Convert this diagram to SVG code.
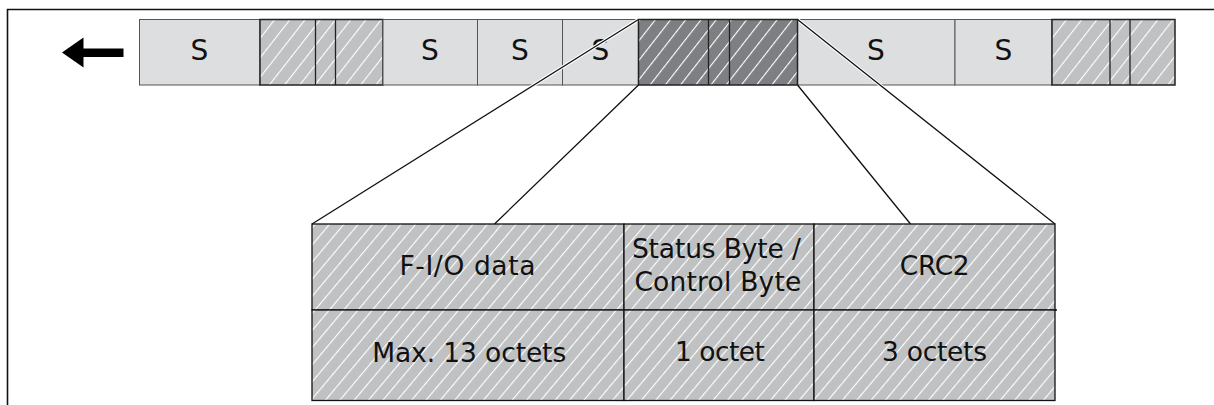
<svg xmlns="http://www.w3.org/2000/svg" width="1214" height="405" viewBox="0 0 1214 405">
<style>
.s{fill:#dddee0;stroke:#555;stroke-width:1}
.hl{fill:url(#hatchLight);stroke:#222;stroke-width:1.5}
.hd{fill:url(#hatchDark);stroke:#222;stroke-width:1.5}
.ht{fill:url(#hatchTable);stroke:#111;stroke-width:1.3}
.div{stroke:#222;stroke-width:1.3;fill:none}
.lbl{font-family:"DejaVu Sans","Verdana",sans-serif;font-size:28px;fill:#111;text-anchor:middle}
.t{font-family:"DejaVu Sans","Verdana",sans-serif;font-size:26.5px;fill:#111;text-anchor:middle}
.con{stroke:#111;stroke-width:1.3;fill:none}
.halo{stroke:#fff;stroke-width:3.5;fill:none}
</style>
<defs>
<pattern id="hatchLight" patternUnits="userSpaceOnUse" width="12" height="12" patternTransform="rotate(38)">
<rect width="12" height="12" fill="#c0c1c3"/>
<line x1="0" y1="0" x2="0" y2="12" stroke="#fff" stroke-width="2.2"/>
</pattern>
<pattern id="hatchDark" patternUnits="userSpaceOnUse" width="12" height="12" patternTransform="rotate(38)">
<rect width="12" height="12" fill="#7e7f82"/>
<line x1="0" y1="0" x2="0" y2="12" stroke="#fff" stroke-width="2.2"/>
</pattern>
<pattern id="hatchTable" patternUnits="userSpaceOnUse" width="11" height="11" patternTransform="rotate(40)">
<rect width="11" height="11" fill="#c0c1c3"/>
<line x1="0" y1="0" x2="0" y2="11" stroke="#fff" stroke-width="2.2"/>
</pattern>
</defs>
<rect width="1214" height="405" fill="#fff"/>
<g id="frame">
<path d="M7.5,405 V9.5 H1214" stroke="#111" stroke-width="1.6" fill="none"/>
</g>
<g id="arrow">
<polygon points="62,52.5 83.5,37.5 83.5,48.5 123.5,48.5 123.5,57 83.5,57 83.5,67.5" fill="#000"/>
</g>
<g id="strip">
<g id="s1"><rect class="s" x="139.5" y="19.5" width="120.5" height="65.5"/><text class="lbl" x="199.5" y="60">S</text></g>
<g id="h1"><rect class="hl" x="260" y="19.5" width="123" height="65.5"/><path class="div" d="M315.5,19.5V85M335.5,19.5V85"/></g>
<g id="s2"><rect class="s" x="383" y="19.5" width="94.5" height="65.5"/><text class="lbl" x="430" y="60">S</text></g>
<g id="s3"><rect class="s" x="477.5" y="19.5" width="85" height="65.5"/><text class="lbl" x="520" y="60">S</text></g>
<g id="s4"><rect class="s" x="562.5" y="19.5" width="76" height="65.5"/><text class="lbl" x="600.5" y="60">S</text></g>
<g id="s5"><rect class="s" x="797.5" y="19.5" width="157.5" height="65.5"/><text class="lbl" x="876" y="60">S</text></g>
<g id="s6"><rect class="s" x="955" y="19.5" width="97" height="65.5"/><text class="lbl" x="1003.5" y="60">S</text></g>
<g id="h3"><rect class="hl" x="1052" y="19.5" width="123" height="65.5"/><path class="div" d="M1110,19.5V85M1130,19.5V85"/></g>
</g>
<g id="connectors">
<path class="halo" d="M638.5,19.5 L312,224 M797.5,19.5 L1055,224"/>
<path class="con" d="M638.5,19.5 L312,224 M638.5,85 L494.5,224 M797.5,85 L910.5,224 M797.5,19.5 L1055,224"/>
</g>
<g id="h2"><rect class="hd" x="638.5" y="19.5" width="159" height="65.5"/><path class="div" d="M708.5,19.5V85M729.5,19.5V85"/></g>
<g id="table">
<g id="fio"><rect class="ht" x="312" y="224" width="312" height="86"/><text class="t" x="467.4" y="275" textLength="136" lengthAdjust="spacing">F-I/O data</text></g>
<g id="status"><rect class="ht" x="624" y="224" width="190" height="86"/><text class="t" x="716.4" y="258.3" textLength="169" lengthAdjust="spacing">Status Byte /</text><text class="t" x="717.9" y="291" textLength="167" lengthAdjust="spacing">Control Byte</text></g>
<g id="crc"><rect class="ht" x="814" y="224" width="241" height="86"/><text class="t" x="934.7" y="275" textLength="70" lengthAdjust="spacing">CRC2</text></g>
<g id="fiolen"><rect class="ht" x="312" y="310" width="312" height="90.5"/><text class="t" x="469.2" y="361.5" textLength="194" lengthAdjust="spacing">Max. 13 octets</text></g>
<g id="statuslen"><rect class="ht" x="624" y="310" width="190" height="90.5"/><text class="t" x="720" y="360.7" textLength="90" lengthAdjust="spacing">1 octet</text></g>
<g id="crclen"><rect class="ht" x="814" y="310" width="241" height="90.5"/><text class="t" x="934.5" y="361" textLength="105" lengthAdjust="spacing">3 octets</text></g>
<path d="M1055,310 H1057" stroke="#111" stroke-width="1.3"/>
</g>
</svg>
